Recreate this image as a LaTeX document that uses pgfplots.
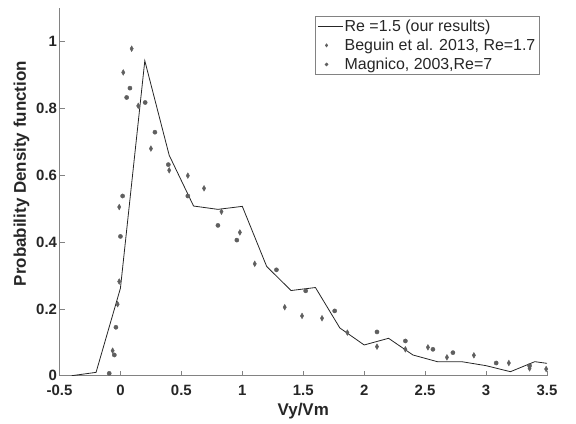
\documentclass[border=0pt]{standalone}
\usepackage{pgfplots}
\pgfplotsset{compat=1.18}
\usepackage{fontspec}
\setmainfont{Liberation Sans}
\definecolor{axgray}{RGB}{130,130,130}
\definecolor{txt}{RGB}{38,38,38}
\definecolor{mk}{RGB}{95,95,95}
\newcommand{\lbf}{\fontsize{15}{18}\bfseries}
\newcommand{\labf}{\fontsize{17}{20}\bfseries}
\begin{document}
\begin{tikzpicture}
\path[use as bounding box] (0,0) rectangle (576bp,424bp);
\begin{axis}[
  at={(59.5bp,48.3bp)}, anchor=south west,
  scale only axis, width=487.5bp, height=367.4bp,
  xmin=-0.5, xmax=3.5, ymin=0, ymax=1.1,
  axis x line*=bottom, axis y line*=left,
  axis line style={axgray, line width=0.6bp, -},
  xtick={-0.5,0,0.5,1,1.5,2,2.5,3,3.5},
  xticklabels={-0.5,0,0.5,1,1.5,2,2.5,3,3.5},
  ytick={0,0.2,0.4,0.6,0.8,1},
  yticklabels={0,0.2,0.4,0.6,0.8,1},
  xtick pos=lower, ytick pos=left,
  tick align=inside, major tick length=5bp,
  tick style={axgray, line width=0.6bp},
  xticklabel style={font=\lbf, color=txt, anchor=center, yshift=-15bp},
  yticklabel style={font=\lbf, color=txt, anchor=east, xshift=1bp},
  xlabel={Vy/Vm}, ylabel={Probability Density function},
  xlabel style={font=\labf, color=txt, at={(axis description cs:0.5,-0.097)}, anchor=center},
  ylabel style={font=\labf, color=txt, at={(axis description cs:-0.078,0.55)}, rotate=0, anchor=center},
  legend style={at={(0.984,0.979)}, anchor=north east, draw=axgray, line width=0.6bp,
    font=\fontsize{16}{16}\selectfont, text=txt, row sep=3bp, inner sep=2bp,
    nodes={inner sep=1.5bp}},
  legend cell align=left,
]
\addplot[color=txt, line width=0.8bp, mark=none,
  legend image code/.code={\draw[txt, line width=0.8bp] (0bp,0bp) -- (25bp,0bp);}]
coordinates {
(-0.4,0) (-0.2,0.01) (0,0.262) (0.2,0.943) (0.4,0.66) (0.6,0.508) (0.8,0.498)
(1.0,0.507) (1.2,0.327) (1.4,0.255) (1.6,0.264) (1.8,0.143) (2.0,0.092) (2.2,0.112)
(2.4,0.062) (2.6,0.042) (2.8,0.042) (3.0,0.030) (3.2,0.012) (3.4,0.042) (3.5,0.037)
};
\addlegendentry{Re =1.5 (our results)}
\addplot[only marks, mark=diamond*, mark size=2.2bp, color=mk, mark options={fill=mk, draw=mk, yscale=1.3},
  legend image code/.code={\pgfuseplotmark{diamond*}}, legend image post style={scale=0.7, xshift=12.5bp}]
coordinates {
(-0.064,0.075) (-0.023,0.214) (-0.01,0.282) (-0.01,0.505) (0.023,0.908) (0.092,0.979)
(0.146,0.808) (0.25,0.68) (0.40,0.615) (0.553,0.599) (0.686,0.561) (0.829,0.491)
(0.98,0.429) (1.102,0.335) (1.348,0.205) (1.49,0.179) (1.654,0.172) (1.862,0.129)
(2.105,0.087) (2.338,0.079) (2.523,0.085) (2.679,0.055) (2.90,0.061) (3.187,0.038)
(3.357,0.022) (3.493,0.020)
};
\addlegendentry{Beguin et al. 2013, Re=1.7}
\addplot[only marks, mark=*, mark size=2.1bp, color=mk,
  legend image code/.code={\pgfuseplotmark{*}}, legend image post style={scale=0.7, xshift=12.5bp}]
coordinates {
(-0.092,0.007) (-0.05,0.062) (-0.037,0.145) (0.0,0.417) (0.018,0.538) (0.051,0.833)
(0.078,0.861) (0.203,0.818) (0.283,0.729) (0.393,0.632) (0.553,0.538) (0.80,0.450)
(0.955,0.406) (1.28,0.317) (1.52,0.254) (1.758,0.194) (2.105,0.131) (2.338,0.104)
(2.564,0.079) (2.728,0.069) (3.083,0.038) (3.357,0.030)
};
\addlegendentry{Magnico, 2003,Re=7}
\end{axis}
\end{tikzpicture}
\end{document}
